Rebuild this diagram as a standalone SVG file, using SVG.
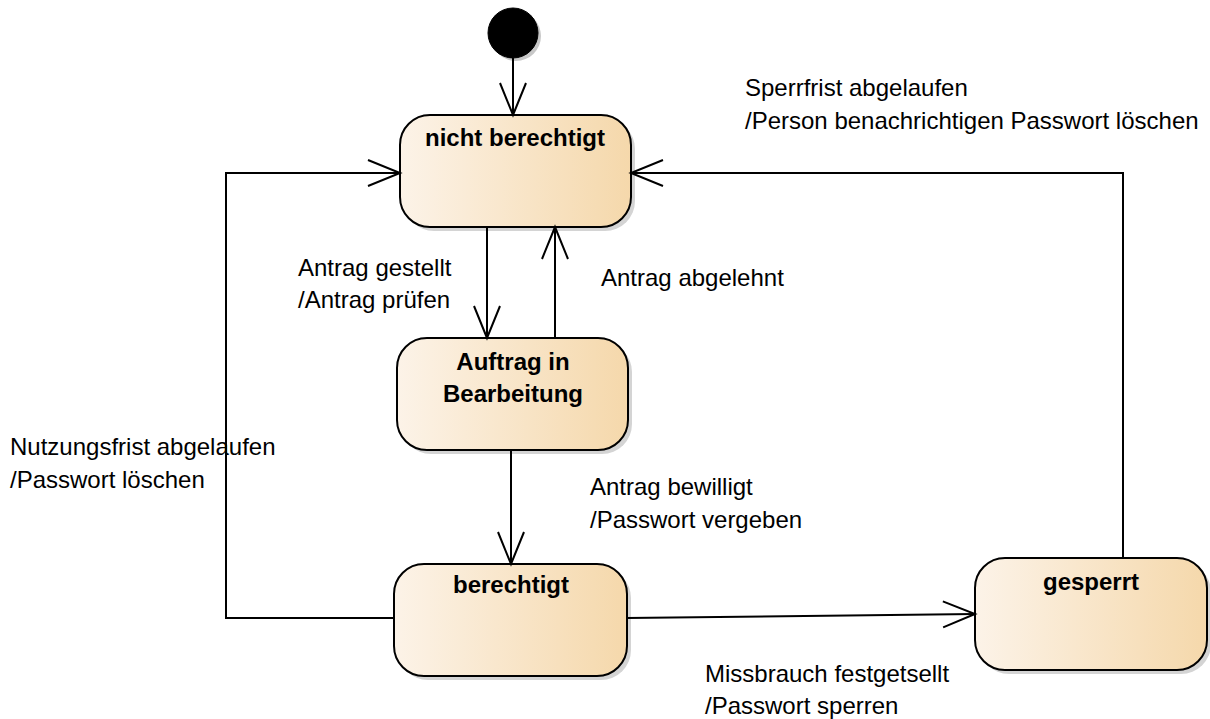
<svg xmlns="http://www.w3.org/2000/svg" width="1210" height="719" viewBox="0 0 1210 719">
<defs>
<linearGradient id="g" x1="0" y1="0" x2="1" y2="0">
<stop offset="0" stop-color="#fcf3e8"/>
<stop offset="1" stop-color="#f5d8ab"/>
</linearGradient>
<marker id="open" viewBox="0 0 36 30" refX="33" refY="15" markerWidth="36" markerHeight="30" markerUnits="userSpaceOnUse" orient="auto">
<path d="M1,2 L33,15 L1,28" fill="none" stroke="#000" stroke-width="2"/>
</marker>
</defs>
<style>
.st{fill:url(#g);stroke:#000;stroke-width:2}
.sh{fill:#d4d4d4}
.t{font-family:"Liberation Sans",Arial,sans-serif;font-size:24px;font-weight:bold;fill:#000;text-anchor:middle}
.l{font-family:"Liberation Sans",Arial,sans-serif;font-size:24px;fill:#000}
.c{fill:none;stroke:#000;stroke-width:2;marker-end:url(#open)}
</style>
<rect width="1210" height="719" fill="#fff"/>
<g id="initial">
<circle cx="516" cy="36" r="25" fill="#c8c8c8"/>
<circle cx="513" cy="33" r="25" fill="#000" stroke="#000" stroke-width="1"/>
</g>
<g id="nicht-berechtigt">
<rect class="sh" x="404" y="119" width="231" height="112" rx="30"/>
<rect class="st" x="400" y="115" width="231" height="112" rx="30"/>
<text class="t" x="515" y="146">nicht berechtigt</text>
</g>
<g id="auftrag">
<rect class="sh" x="401" y="342" width="231" height="112" rx="30"/>
<rect class="st" x="397" y="338" width="231" height="112" rx="30"/>
<text class="t" x="513" y="370">Auftrag in</text>
<text class="t" x="513" y="402">Bearbeitung</text>
</g>
<g id="berechtigt">
<rect class="sh" x="398" y="568" width="233" height="112" rx="30"/>
<rect class="st" x="394" y="564" width="233" height="112" rx="30"/>
<text class="t" x="511" y="593">berechtigt</text>
</g>
<g id="gesperrt">
<rect class="sh" x="979" y="562" width="232" height="112" rx="30"/>
<rect class="st" x="975" y="558" width="232" height="112" rx="30"/>
<text class="t" x="1091" y="590">gesperrt</text>
</g>
<g id="connectors">
<path class="c" d="M513,58 L513,115"/>
<path class="c" d="M487,227 L487,338"/>
<path class="c" d="M555,338 L555,227"/>
<path class="c" d="M511,450 L511,564"/>
<path class="c" d="M394,618 L226,618 L226,173 L400,173"/>
<path class="c" d="M627,618 L975,614"/>
<path class="c" d="M1123,558 L1123,173 L631,173"/>
</g>
<g id="labels">
<text class="l" x="745" y="96">Sperrfrist abgelaufen</text>
<text class="l" x="745" y="129">/Person benachrichtigen Passwort löschen</text>
<text class="l" x="298" y="276">Antrag gestellt</text>
<text class="l" x="298" y="308">/Antrag prüfen</text>
<text class="l" x="601" y="286">Antrag abgelehnt</text>
<text class="l" x="10" y="455">Nutzungsfrist abgelaufen</text>
<text class="l" x="10" y="488">/Passwort löschen</text>
<text class="l" x="590" y="495">Antrag bewilligt</text>
<text class="l" x="590" y="528">/Passwort vergeben</text>
<text class="l" x="705" y="682">Missbrauch festgetsellt</text>
<text class="l" x="705" y="714">/Passwort sperren</text>
</g>
</svg>
